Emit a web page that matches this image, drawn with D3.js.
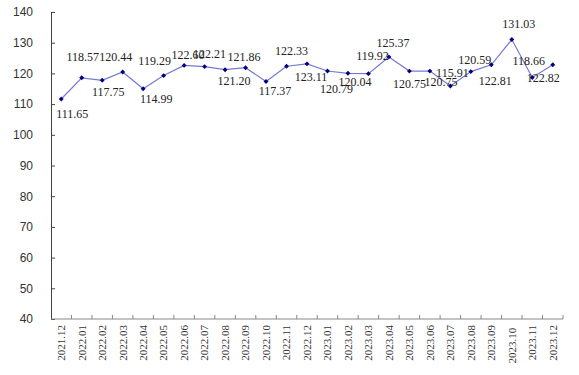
<!DOCTYPE html>
<html>
<head>
<meta charset="utf-8">
<script src="https://cdn.jsdelivr.net/npm/d3@7"></script>
<style>
  body { margin: 0; background: #fff; }
  .x-label { white-space: pre; }
</style>
</head>
<body>
<div id="chart"></div>
<script>

// months along the x axis
var months = ["2021.12", "2022.01", "2022.02", "2022.03", "2022.04", "2022.05",
  "2022.06", "2022.07", "2022.08", "2022.09", "2022.10", "2022.11", "2022.12",
  "2023.01", "2023.02", "2023.03", "2023.04", "2023.05", "2023.06", "2023.07",
  "2023.08", "2023.09", "2023.10 ", "2023.11", "2023.12"];

// index values
var values = [111.65, 118.57, 117.75, 120.44, 114.99, 119.29, 122.60, 122.21,
  121.20, 121.86, 117.37, 122.33, 123.11, 120.79, 120.04, 119.92, 125.37,
  120.75, 120.75, 115.91, 120.59, 122.81, 131.03, 118.66, 122.82];

var yTicks = [40, 50, 60, 70, 80, 90, 100, 110, 120, 130, 140];

// label nudges (x, y) relative to each point, as placed in the original
var labelNudge = [[11, 19], [1, -17], [6, 16], [-7, -11], [13, 14], [-9, -11],
  [4, -6], [5, -9], [9, 15], [-1.5, -7], [9, 14], [5, -11], [4, 17], [9, 22],
  [7, 13], [4, -14], [4, -10], [0, 17], [11, 15], [2, -9], [4, -8], [4, 20],
  [7, -12], [-3.5, -12.5], [-9.5, 17]];

var svgWidth = 579;
var svgHeight = 375;

var margin = { top: 12, right: 16, bottom: 56, left: 51 };
var width = svgWidth - margin.left - margin.right;
var height = svgHeight - margin.top - margin.bottom;

var svg = d3.select("#chart")
  .append("svg")
  .attr("width", svgWidth)
  .attr("height", svgHeight);

var chartGroup = svg.append("g")
  .attr("transform", `translate(${margin.left}, ${margin.top})`);

// scales
var xScale = d3.scaleBand()
  .domain(months)
  .range([0, width])
  .padding(0);

var yScale = d3.scaleLinear()
  .domain([40, 140])
  .range([height, 0]);

// y axis
var yAxis = chartGroup.append("g")
  .call(d3.axisLeft(yScale).tickValues(yTicks).tickSizeInner(-4).tickSizeOuter(0).tickFormat(d3.format("d")));

yAxis.select(".domain").attr("stroke", "#444");
yAxis.selectAll(".tick line").attr("stroke", "#444");
yAxis.selectAll(".tick text")
  .attr("x", -18)
  .attr("fill", "#333")
  .style("font-family", "Liberation Sans, Arial, sans-serif")
  .style("font-size", "12px");

// x axis, ticks sit between months
var xAxis = chartGroup.append("g")
  .attr("transform", `translate(0, ${height})`);

xAxis.append("line")
  .attr("x1", 0)
  .attr("x2", width)
  .attr("stroke", "#888");

xAxis.selectAll(".xtick")
  .data(months)
  .enter()
  .append("line")
  .attr("x1", d => xScale(d) + xScale.bandwidth())
  .attr("x2", d => xScale(d) + xScale.bandwidth())
  .attr("y1", 0)
  .attr("y2", -4)
  .attr("stroke", "#888");

xAxis.selectAll(".x-label")
  .data(months)
  .enter()
  .append("text")
  .attr("class", "x-label")
  .attr("transform", d => `translate(${xScale(d) + xScale.bandwidth() / 2}, 6) rotate(-90)`)
  .attr("dy", "0.35em")
  .attr("text-anchor", "end")
  .attr("fill", "#333")
  .style("font-family", "Liberation Serif, serif")
  .style("font-size", "11px")
  .text(d => d);

// line
var line = d3.line()
  .x((d, i) => xScale(months[i]) + xScale.bandwidth() / 2)
  .y(d => yScale(d));

chartGroup.append("path")
  .datum(values)
  .attr("d", line)
  .attr("fill", "none")
  .attr("stroke", "#7878d0")
  .attr("stroke-width", 1.2);

// diamond markers
chartGroup.selectAll(".marker")
  .data(values)
  .enter()
  .append("path")
  .attr("class", "marker")
  .attr("d", d3.symbol().type(d3.symbolSquare).size(12))
  .attr("transform", (d, i) => `translate(${xScale(months[i]) + xScale.bandwidth() / 2}, ${yScale(d)}) rotate(45)`)
  .attr("fill", "#000080");

// data labels
chartGroup.selectAll(".value-label")
  .data(values)
  .enter()
  .append("text")
  .attr("class", "value-label")
  .attr("x", (d, i) => xScale(months[i]) + xScale.bandwidth() / 2 + labelNudge[i][0])
  .attr("y", (d, i) => yScale(d) + labelNudge[i][1])
  .attr("text-anchor", "middle")
  .attr("fill", "#222")
  .style("font-family", "Liberation Serif, serif")
  .style("font-size", "12px")
  .text(d => d.toFixed(2));

</script>
</body>
</html>
